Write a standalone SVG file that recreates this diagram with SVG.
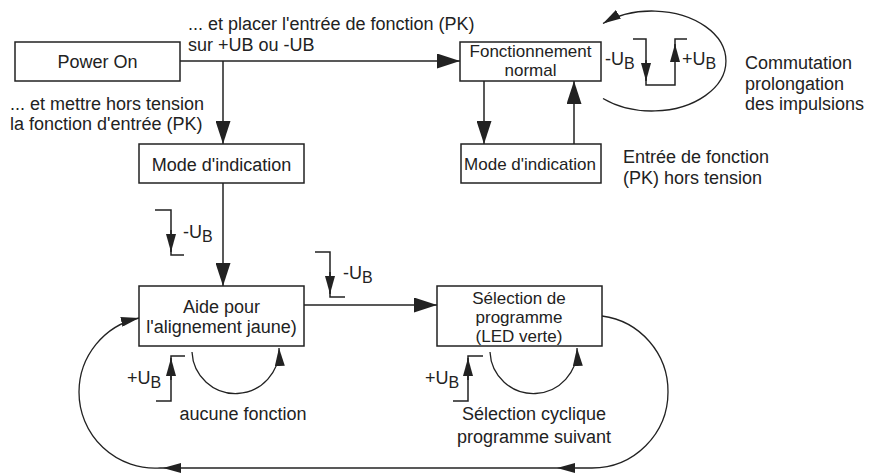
<svg xmlns="http://www.w3.org/2000/svg" width="869" height="473" viewBox="0 0 869 473">
<style>
text{font-family:"Liberation Sans",Arial,sans-serif;font-size:18px;fill:#222}
.c{text-anchor:middle}
.t{font-size:17px}
.box{fill:#fff;stroke:#222;stroke-width:1.5}
.ln{fill:none;stroke:#222;stroke-width:1.5}
.cv{fill:none;stroke:#222;stroke-width:1.3}
</style>
<defs>
<marker id="big" markerUnits="userSpaceOnUse" viewBox="0 0 23 15" refX="23" refY="7.5" markerWidth="23" markerHeight="15" orient="auto"><path d="M0,0L23,7.5L0,15z" fill="#222"/></marker>
<marker id="sm" markerUnits="userSpaceOnUse" viewBox="0 0 18 10" refX="18" refY="5" markerWidth="18" markerHeight="10" orient="auto"><path d="M0,0L18,5L0,10z" fill="#222"/></marker>
</defs>
<g id="connectors">
<path class="ln" d="M180,61H460" marker-end="url(#big)"/>
<path class="ln" d="M223,61V144" marker-end="url(#big)"/>
<path class="ln" d="M223,183V286" marker-end="url(#big)"/>
<path class="ln" d="M304,305H437" marker-end="url(#big)"/>
<path class="ln" d="M484,81V144" marker-end="url(#big)"/>
<path class="ln" d="M574,144V81" marker-end="url(#big)"/>
<path class="cv" d="M603,98.5A74,50 0 1 0 603,23.5" marker-end="url(#sm)"/>
<path class="cv" d="M192,352A43.5,43.5 0 0 0 279,348" marker-end="url(#sm)"/>
<path class="cv" d="M490,352A43.5,43.5 0 0 0 577,348" marker-end="url(#sm)"/>
<path class="cv" d="M602,316A76,76 0 0 1 668,392A76,76 0 0 1 592,468L557,468" marker-end="url(#sm)"/>
<path class="cv" d="M557,468L163,468" marker-end="url(#sm)"/>
<path class="cv" d="M163,468L160,468A76,76 0 0 1 79,392A76,76 0 0 1 139,318" marker-end="url(#sm)"/>
</g>
<g id="signals">
<path class="ln" d="M633,39H646V85H675V39H687"/>
<path class="ln" d="M646,60V81" marker-end="url(#sm)"/>
<path class="ln" d="M675,62V44" marker-end="url(#sm)"/>
<text x="605" y="65">-U<tspan dy="4" font-size="16">B</tspan></text>
<text x="682" y="65">+U<tspan dy="4" font-size="16">B</tspan></text>
<path class="ln" d="M155,210H171V255H184"/>
<path class="ln" d="M171,230V252" marker-end="url(#sm)"/>
<text x="183" y="238">-U<tspan dy="4" font-size="16">B</tspan></text>
<path class="ln" d="M315,252H330V297H345"/>
<path class="ln" d="M330,272V294" marker-end="url(#sm)"/>
<text x="343" y="279">-U<tspan dy="4" font-size="16">B</tspan></text>
<path class="ln" d="M185,356H171V401H156"/>
<path class="ln" d="M171,380V358" marker-end="url(#sm)"/>
<text x="127" y="384">+U<tspan dy="4" font-size="16">B</tspan></text>
<path class="ln" d="M483,356H468V401H453"/>
<path class="ln" d="M468,380V358" marker-end="url(#sm)"/>
<text x="425" y="384">+U<tspan dy="4" font-size="16">B</tspan></text>
</g>
<g id="power-on">
<rect class="box" x="15" y="42" width="165" height="39"/>
<text class="c" x="97.5" y="68">Power On</text>
</g>
<g id="fonctionnement-normal">
<rect class="box" x="460" y="42" width="141" height="39"/>
<text class="c t" x="530.5" y="57">Fonctionnement</text>
<text class="c t" x="530.5" y="76">normal</text>
</g>
<g id="mode-indication-1">
<rect class="box" x="139" y="144" width="165" height="39"/>
<text class="c" x="221.5" y="171">Mode d'indication</text>
</g>
<g id="mode-indication-2">
<rect class="box" x="461" y="144" width="140" height="39"/>
<text class="c t" x="530" y="170">Mode d'indication</text>
</g>
<g id="aide-alignement">
<rect class="box" x="139" y="286" width="165" height="60"/>
<text class="c" x="221.5" y="313">Aide pour</text>
<text class="c" x="221.5" y="333">l'alignement jaune)</text>
</g>
<g id="selection-programme">
<rect class="box" x="437" y="286" width="165" height="60"/>
<text class="c t" x="519" y="304">Sélection de</text>
<text class="c t" x="519" y="323">programme</text>
<text class="c t" x="519" y="342">(LED verte)</text>
</g>
<g id="labels">
<text x="188" y="30">... et placer l'entrée de fonction (PK)</text>
<text x="188" y="51">sur +UB ou -UB</text>
<text x="10" y="110">... et mettre hors tension</text>
<text x="10" y="130">la fonction d'entrée (PK)</text>
<text x="745" y="69">Commutation</text>
<text x="745" y="90">prolongation</text>
<text x="745" y="110">des impulsions</text>
<text x="623" y="163">Entrée de fonction</text>
<text x="623" y="184">(PK) hors tension</text>
<text class="c" x="243" y="420">aucune fonction</text>
<text class="c" x="534" y="420">Sélection cyclique</text>
<text class="c" x="534" y="443">programme suivant</text>
</g>
</svg>
